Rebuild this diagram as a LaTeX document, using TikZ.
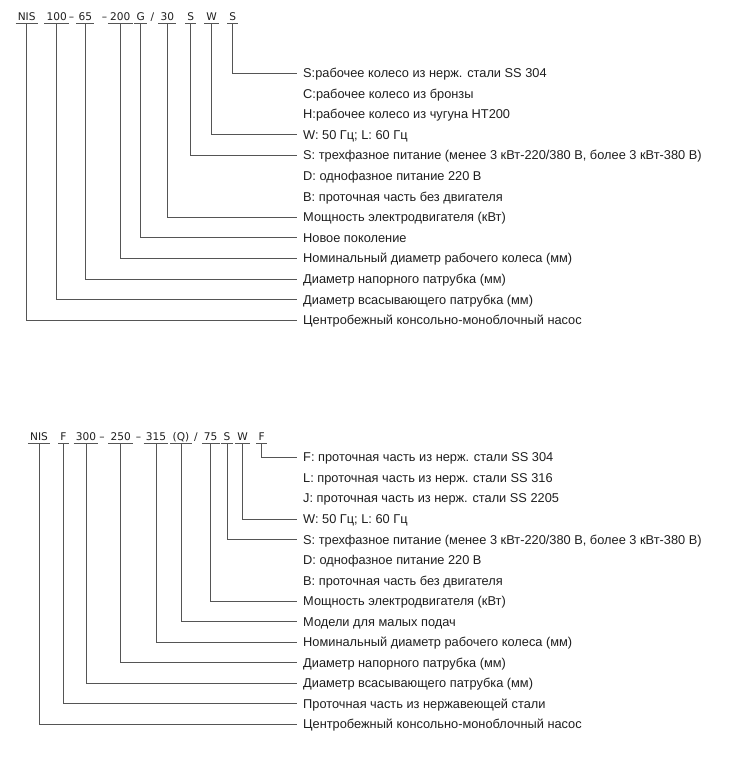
\documentclass[tikz,border=0pt]{standalone}
\usepackage{fontspec}
\setmainfont{Liberation Sans}
\newfontfamily\codefont{DejaVu Sans}
\definecolor{ln}{HTML}{555555}
\definecolor{tx}{HTML}{1E1E1E}
\begin{document}
\begin{tikzpicture}[x=1pt,y=-1pt,
  code/.style={anchor=base, inner xsep=2pt, inner ysep=2.8pt, text depth=0pt, font=\codefont\fontsize{10.6}{11}\selectfont, text=tx},
  sep/.style={anchor=base, inner sep=0pt, font=\codefont\fontsize{10.6}{11}\selectfont, text=tx},
  lab/.style={anchor=west, inner xsep=6pt, inner ysep=0pt, text height=9pt, text depth=0pt, font=\fontsize{12.8}{13}\selectfont, text=tx},
  con/.style={draw=ln, line width=0.9pt},
  ul/.style={draw=ln, line width=0.9pt}]
\useasboundingbox (0,0) rectangle (735,772);
% ---------- top ----------
\node[code] (a1) at (26.7,20.5) {NIS};
\node[code] (a2) at (56.7,20.5) {100};
\node[sep]  (s1) at (71.5,20.5) {–};
\node[code] (a3) at (85.3,20.5) {65};
\node[sep]  (s2) at (104.5,20.5) {–};
\node[code] (a4) at (120.3,20.5) {200};
\node[code] (a5) at (140.7,20.5) {G};
\node[sep]  (s3) at (152.5,20.5) {/};
\node[code] (a6) at (167.3,20.5) {30};
\node[code] (a7) at (190.7,20.5) {S};
\node[code] (a8) at (211.7,20.5) {W};
\node[code] (a9) at (232.7,20.5) {S};
\foreach \n in {a1,a2,a3,a4,a5,a6,a7,a8,a9} \draw[ul] (\n.south west) -- (\n.south east);
\node[lab] (t1) at (297,73.0) {S:рабочее колесо из нерж. стали SS 304};
\node[lab] (t2) at (297,93.6) {C:рабочее колесо из бронзы};
\node[lab] (t3) at (297,114.2) {H:рабочее колесо из чугуна HT200};
\node[lab] (t4) at (297,134.8) {W: 50 Гц; L: 60 Гц};
\node[lab] (t5) at (297,155.4) {S: трехфазное питание (менее 3 кВт-220/380 В, более 3 кВт-380 В)};
\node[lab] (t6) at (297,176.0) {D: однофазное питание 220 В};
\node[lab] (t7) at (297,196.6) {B: проточная часть без двигателя};
\node[lab] (t8) at (297,217.2) {Мощность электродвигателя (кВт)};
\node[lab] (t9) at (297,237.8) {Новое поколение};
\node[lab] (t10) at (297,258.4) {Номинальный диаметр рабочего колеса (мм)};
\node[lab] (t11) at (297,279.0) {Диаметр напорного патрубка (мм)};
\node[lab] (t12) at (297,299.6) {Диаметр всасывающего патрубка (мм)};
\node[lab] (t13) at (297,320.2) {Центробежный консольно-моноблочный насос};
\draw[con] (a9.south) |- (t1.west);
\draw[con] (a8.south) |- (t4.west);
\draw[con] (a7.south) |- (t5.west);
\draw[con] (a6.south) |- (t8.west);
\draw[con] (a5.south) |- (t9.west);
\draw[con] (a4.south) |- (t10.west);
\draw[con] (a3.south) |- (t11.west);
\draw[con] (a2.south) |- (t12.west);
\draw[con] (a1.south) |- (t13.west);
% ---------- bottom ----------
\node[code] (b1) at (39,440) {NIS};
\node[code] (b2) at (63.3,440) {F};
\node[code] (b3) at (86,440) {300};
\node[sep]  (r1) at (102,440) {–};
\node[code] (b4) at (120.7,440) {250};
\node[sep]  (r2) at (138.5,440) {–};
\node[code] (b5) at (156,440) {315};
\node[code] (b6) at (181,440) {(Q)};
\node[sep]  (r3) at (196,440) {/};
\node[code] (b7) at (210.7,440) {75};
\node[code] (b8) at (227,440) {S};
\node[code] (b9) at (242.7,440) {W};
\node[code] (b10) at (261.7,440) {F};
\foreach \n in {b1,b2,b3,b4,b5,b6,b7,b8,b9,b10} \draw[ul] (\n.south west) -- (\n.south east);
\node[lab] (u1) at (297,457.3) {F: проточная часть из нерж. стали SS 304};
\node[lab] (u2) at (297,477.9) {L: проточная часть из нерж. стали SS 316};
\node[lab] (u3) at (297,498.4) {J: проточная часть из нерж. стали SS 2205};
\node[lab] (u4) at (297,519.0) {W: 50 Гц; L: 60 Гц};
\node[lab] (u5) at (297,539.5) {S: трехфазное питание (менее 3 кВт-220/380 В, более 3 кВт-380 В)};
\node[lab] (u6) at (297,560.1) {D: однофазное питание 220 В};
\node[lab] (u7) at (297,580.6) {B: проточная часть без двигателя};
\node[lab] (u8) at (297,601.0) {Мощность электродвигателя (кВт)};
\node[lab] (u9) at (297,621.5) {Модели для малых подач};
\node[lab] (u10) at (297,642.1) {Номинальный диаметр рабочего колеса (мм)};
\node[lab] (u11) at (297,662.7) {Диаметр напорного патрубка (мм)};
\node[lab] (u12) at (297,683.3) {Диаметр всасывающего патрубка (мм)};
\node[lab] (u13) at (297,703.9) {Проточная часть из нержавеющей стали};
\node[lab] (u14) at (297,724.4) {Центробежный консольно-моноблочный насос};
\draw[con] (b10.south) |- (u1.west);
\draw[con] (b9.south) |- (u4.west);
\draw[con] (b8.south) |- (u5.west);
\draw[con] (b7.south) |- (u8.west);
\draw[con] (b6.south) |- (u9.west);
\draw[con] (b5.south) |- (u10.west);
\draw[con] (b4.south) |- (u11.west);
\draw[con] (b3.south) |- (u12.west);
\draw[con] (b2.south) |- (u13.west);
\draw[con] (b1.south) |- (u14.west);
\end{tikzpicture}
\end{document}
